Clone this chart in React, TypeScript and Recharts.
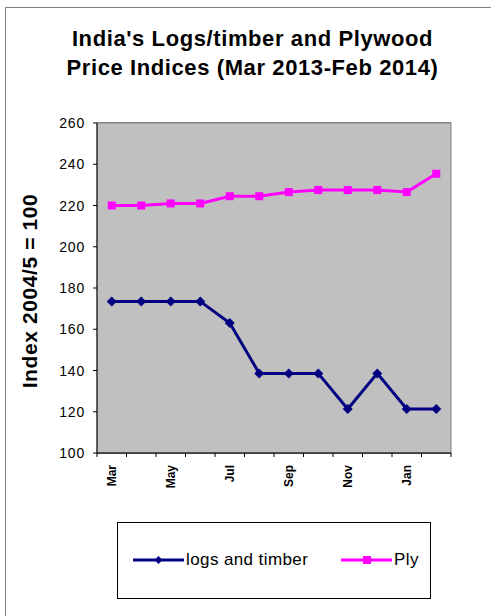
import { LineChart, Line, XAxis, YAxis, CartesianGrid } from "recharts"

const months = ["Mar", "Apr", "May", "Jun", "Jul", "Aug", "Sep", "Oct", "Nov", "Dec", "Jan", "Feb"]
const logsTimber = [173.5, 173.5, 173.5, 173.5, 163, 138.6, 138.6, 138.6, 121.3, 138.6, 121.3, 121.3]
const plywood = [220, 220, 221, 221, 224.5, 224.5, 226.5, 227.5, 227.5, 227.5, 226.5, 235.4]
const yTicks = [100, 120, 140, 160, 180, 200, 220, 240, 260]

const W = 491
const H = 616
const PLOT_LEFT = 97
const PLOT_RIGHT = 451
const BAND = (PLOT_RIGHT - PLOT_LEFT) / months.length

const data = months.map((m, i) => ({ month: m, logs: logsTimber[i], ply: plywood[i] }))

const font = "'Liberation Sans', Arial, sans-serif"

function MonthTick(props: any) {
  const { x, y, payload, index } = props
  const left = x - BAND / 2
  return (
    <g>
      <line x1={left} y1={y - 8} x2={left} y2={y - 4} stroke="#000" />
      {index === months.length - 1 && (
        <line x1={x + BAND / 2} y1={y - 8} x2={x + BAND / 2} y2={y - 4} stroke="#000" />
      )}
      {index % 2 === 0 && (
        <text
          transform={`translate(${x + 4},${y + 4}) rotate(-90)`}
          textAnchor="end"
          fontSize={12}
          fontWeight="bold"
          fontFamily={font}
          fill="#000"
        >
          {payload.value}
        </text>
      )}
    </g>
  )
}

function YTick(props: any) {
  const { x, y, payload } = props
  return (
    <text x={x - 6} y={y + 5} textAnchor="end" fontSize={14} letterSpacing={0.8} fontFamily={font} fill="#000">
      {payload.value}
    </text>
  )
}

function Diamond(props: any) {
  const { cx, cy } = props
  if (cx == null || cy == null) return null
  return <path d={`M${cx},${cy - 5} L${cx + 5},${cy} L${cx},${cy + 5} L${cx - 5},${cy} Z`} fill="#000080" />
}

function Square(props: any) {
  const { cx, cy } = props
  if (cx == null || cy == null) return null
  return <rect x={cx - 4} y={cy - 4} width={8} height={8} fill="#FF00FF" />
}

function LegendBox() {
  return (
    <div
      style={{
        position: "absolute",
        left: 117,
        top: 522,
        width: 314,
        height: 77,
        border: "1px solid #000",
        boxSizing: "border-box",
      }}
    >
      <svg width={312} height={75} style={{ position: "absolute", left: 0, top: 0 }}>
        <line x1={15} y1={37} x2={66} y2={37} stroke="#000080" strokeWidth={3} />
        <path d="M40.5,33 L44.5,37 L40.5,41 L36.5,37 Z" fill="#000080" />
        <text x={68} y={42} fontSize={17} letterSpacing={0.4} fontFamily={font} fill="#000">logs and timber</text>
        <line x1={223} y1={37} x2={274} y2={37} stroke="#FF00FF" strokeWidth={3} />
        <rect x={245} y={33} width={8} height={8} fill="#FF00FF" />
        <text x={276} y={42} fontSize={17} letterSpacing={0.4} fontFamily={font} fill="#000">Ply</text>
      </svg>
    </div>
  )
}

export default function App() {
  return (
    <div style={{ position: "absolute", left: 0, top: 0, width: W, height: H, background: "#fff", overflow: "hidden" }}>
      <div
        style={{
          position: "absolute",
          left: 5,
          top: 7,
          width: W,
          height: H,
          border: "1px solid #808080",
          boxSizing: "border-box",
        }}
      />
      <div
        style={{
          position: "absolute",
          left: 0,
          top: 24,
          width: 505,
          textAlign: "center",
          fontFamily: font,
          fontWeight: "bold",
          fontSize: 22,
          letterSpacing: 0.6,
          lineHeight: "29px",
          color: "#000",
        }}
      >
        India's Logs/timber and Plywood
        <br />
        Price Indices (Mar 2013-Feb 2014)
      </div>
      <div
        style={{
          position: "absolute",
          left: 30,
          top: 291,
          transform: "translate(-50%, -50%) rotate(-90deg)",
          whiteSpace: "nowrap",
          fontFamily: font,
          fontWeight: "bold",
          fontSize: 21,
          letterSpacing: 0.6,
          color: "#000",
        }}
      >
        Index 2004/5 = 100
      </div>
      <div style={{ position: "absolute", left: 0, top: 0 }}>
        <LineChart width={W} height={H} data={data} margin={{ top: 123, right: W - PLOT_RIGHT, bottom: 123, left: 37 }}>
          <rect x={PLOT_LEFT} y={123} width={PLOT_RIGHT - PLOT_LEFT} height={330} fill="#C0C0C0" stroke="#808080" />
          <CartesianGrid vertical={false} stroke="#000" strokeWidth={1} />
          <XAxis
            dataKey="month"
            height={40}
            interval={0}
            padding={{ left: BAND / 2, right: BAND / 2 }}
            tick={<MonthTick />}
            tickLine={false}
            axisLine={{ stroke: "#000" }}
          />
          <YAxis
            width={60}
            domain={[100, 260]}
            ticks={yTicks}
            interval={0}
            tick={<YTick />}
            tickLine={{ stroke: "#000" }}
            tickSize={4}
            axisLine={{ stroke: "#000" }}
          />
          <Line
            dataKey="logs"
            stroke="#000080"
            strokeWidth={3}
            dot={<Diamond />}
            activeDot={false}
            isAnimationActive={false}
          />
          <Line
            dataKey="ply"
            stroke="#FF00FF"
            strokeWidth={3}
            dot={<Square />}
            activeDot={false}
            isAnimationActive={false}
          />
        </LineChart>
      </div>
      <LegendBox />
    </div>
  )
}
